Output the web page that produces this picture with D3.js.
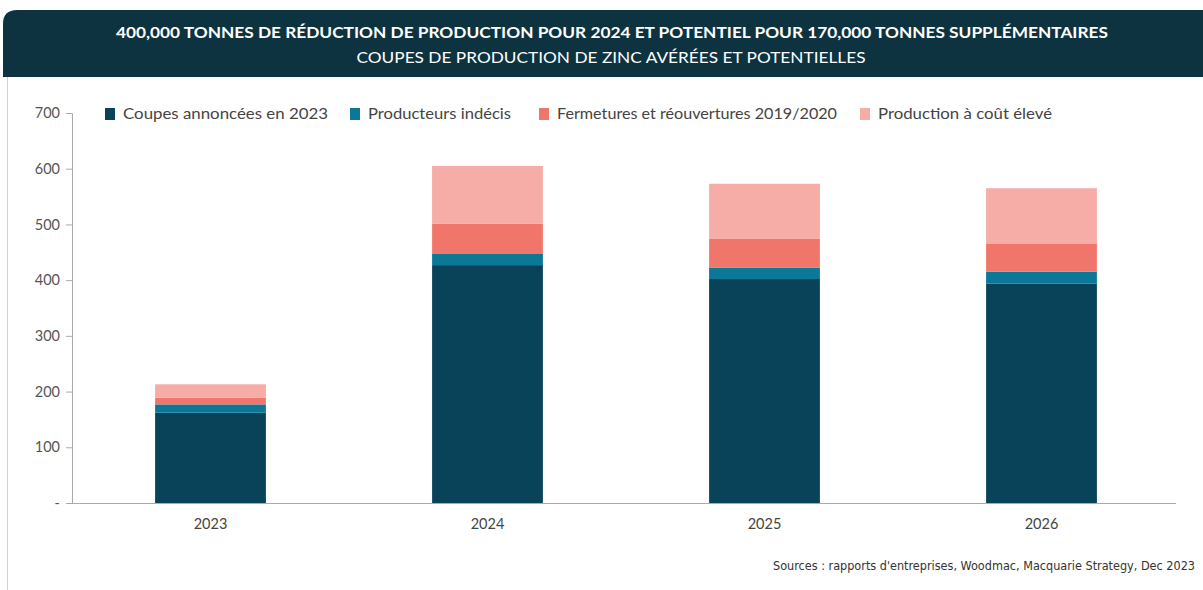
<!DOCTYPE html>
<html><head><meta charset="utf-8">
<script src="https://cdn.jsdelivr.net/npm/d3@7"></script>
<style>body{margin:0;background:#fff;}svg{display:block;}</style>
</head><body>
<svg id="c" width="1203" height="590"></svg>
<script>
const years = ["2023","2024","2025","2026"];
const seriesNames = ["Coupes annoncées en 2023","Producteurs indécis","Fermetures et réouvertures 2019/2020","Production à coût élevé"];
const coupes = [162, 427, 402, 394];
const indecis = [15, 21, 20, 21];
const fermetures = [12, 53, 52, 51];
const coutEleve = [24, 104, 99, 99];
const yTicks = [0,100,200,300,400,500,600,700];
const colors = ["#08435a","#0b7898","#f0766b","#f6aca7"];
const title = "400,000 TONNES DE RÉDUCTION DE PRODUCTION POUR 2024 ET POTENTIEL POUR 170,000 TONNES SUPPLÉMENTAIRES";
const subtitle = "COUPES DE PRODUCTION DE ZINC AVÉRÉES ET POTENTIELLES";
const source = "Sources : rapports d'entreprises, Woodmac, Macquarie Strategy, Dec 2023";

const svg = d3.select("#c");
// header
svg.append("path").attr("d","M3,24 Q3,10 17,10 L1203,10 L1203,77 L3,77 Z").attr("fill","#0d3340");
svg.append("text").attr("x",612).attr("y",38).attr("text-anchor","middle")
  .attr("fill","#fff").attr("font-family","Lato").attr("font-weight","bold").attr("font-size",15.2)
  .attr("textLength",992).attr("lengthAdjust","spacingAndGlyphs").text(title);
svg.append("text").attr("x",611).attr("y",63).attr("text-anchor","middle")
  .attr("fill","#fff").attr("font-family","Lato").attr("font-size",15)
  .attr("textLength",509).attr("lengthAdjust","spacingAndGlyphs").text(subtitle);
// panel border
svg.append("line").attr("x1",7.5).attr("x2",7.5).attr("y1",77).attr("y2",590).attr("stroke","#d0d0d0");

const x = d3.scaleBand().domain(years).range([72,1180]).paddingInner(0.6).paddingOuter(0.3);
const y = d3.scaleLinear().domain([0,700]).range([503,113]);

const data = years.map((yr,i)=>({year:yr, s0:coupes[i], s1:indecis[i], s2:fermetures[i], s3:coutEleve[i]}));
const stack = d3.stack().keys(["s0","s1","s2","s3"])(data);

svg.append("g").selectAll("g").data(stack).join("g").attr("fill",(d,i)=>colors[i])
  .selectAll("rect").data(d=>d).join("rect")
  .attr("x",d=>x(d.data.year)).attr("width",x.bandwidth())
  .attr("y",d=>y(d[1])).attr("height",d=>y(d[0])-y(d[1]));

// y axis
const ya = svg.append("g").attr("transform","translate(72,0)")
  .call(d3.axisLeft(y).tickValues(yTicks).tickSize(6).tickPadding(6).tickFormat(d=>d===0?"-":d));
ya.select(".domain").attr("stroke","#aaa").attr("d","M-6,113.5H0.5V503.5");
ya.selectAll(".tick line").attr("stroke","#aaa");
ya.selectAll("text").attr("fill","#555").attr("font-family","Lato").attr("font-size",14.5);

// x axis
const xa = svg.append("g").attr("transform","translate(0,503)")
  .call(d3.axisBottom(x).tickSize(0).tickPadding(16));
xa.select(".domain").attr("stroke","#aaa").attr("d","M72,0.5H1176");
xa.selectAll("text").attr("fill","#444").attr("font-family","Lato").attr("font-size",14.5);

// legend
const legX = [105, 350, 539, 860];
const legW = [205, 143, 280, 174];
const lg = svg.append("g");
seriesNames.forEach((n,i)=>{
  lg.append("rect").attr("x",legX[i]).attr("y",108).attr("width",10).attr("height",12).attr("fill",colors[i]);
  lg.append("text").attr("x",legX[i]+18).attr("y",119).attr("fill","#444")
    .attr("font-family","Lato").attr("font-size",14.5)
    .attr("textLength",legW[i]).attr("lengthAdjust","spacingAndGlyphs").text(n);
});

svg.append("text").attr("x",1195).attr("y",570).attr("text-anchor","end").attr("fill","#333")
  .attr("font-family","DejaVu Sans Condensed, DejaVu Sans").attr("font-size",11.5)
  .attr("textLength",422).attr("lengthAdjust","spacingAndGlyphs").text(source);
</script>
</body></html>
